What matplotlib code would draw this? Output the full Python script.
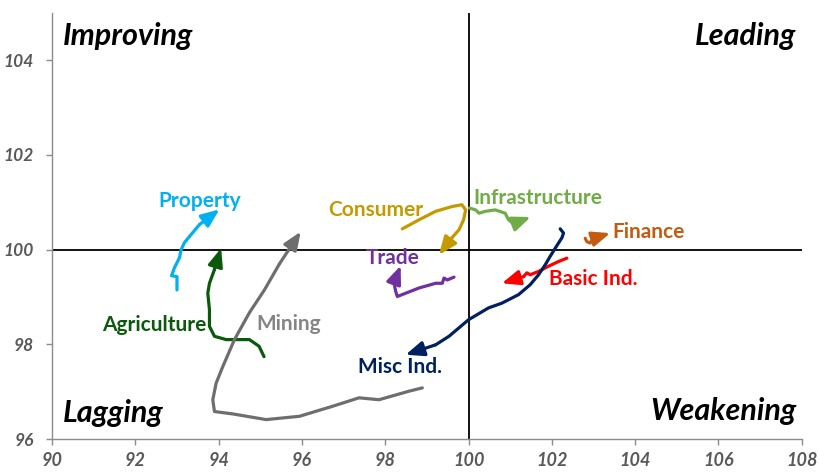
import matplotlib
matplotlib.use("Agg")
import matplotlib.pyplot as plt

plt.rcParams['font.family'] = ['Lato', 'DejaVu Sans']

# ---- data (RS-Ratio on x, RS-Momentum on y), tail order oldest -> newest ----
property_x = [93.00, 93.00, 92.87, 92.94, 93.06, 93.10, 93.18, 93.34, 93.54, 94.02]
property_y = [99.15, 99.43, 99.45, 99.62, 99.83, 100.00, 100.15, 100.32, 100.53, 100.85]

agri_x = [95.09, 94.97, 94.74, 94.18, 93.90, 93.78, 93.78, 93.74, 93.78, 93.90, 94.06]
agri_y = [97.74, 97.96, 98.10, 98.10, 98.17, 98.38, 98.73, 99.08, 99.29, 99.58, 100.03]

mining_x = [98.89, 98.57, 97.85, 97.37, 96.73, 95.94, 95.14, 94.34, 93.90, 93.86,
            93.94, 94.10, 94.38, 94.74, 95.10, 95.46, 95.97]
mining_y = [97.08, 97.01, 96.83, 96.87, 96.69, 96.48, 96.41, 96.53, 96.58, 96.83,
            97.18, 97.53, 98.10, 98.67, 99.15, 99.70, 100.38]

consumer_x = [98.41, 98.81, 99.21, 99.60, 99.84, 99.93, 99.88, 99.77, 99.60, 99.29]
consumer_y = [100.44, 100.63, 100.81, 100.91, 100.95, 100.84, 100.63, 100.42, 100.25, 99.89]

infra_x = [100.02, 100.17, 100.25, 100.40, 100.64, 100.88, 100.96, 101.08, 101.49]
infra_y = [100.88, 100.84, 100.77, 100.81, 100.84, 100.77, 100.63, 100.55, 100.69]

finance_x = [102.80, 102.84, 102.92, 102.98, 103.40]
finance_y = [100.24, 100.17, 100.14, 100.23, 100.35]

basic_x = [102.36, 102.16, 101.92, 101.68, 101.48, 101.40, 101.32, 100.80]
basic_y = [99.82, 99.75, 99.65, 99.54, 99.47, 99.51, 99.43, 99.29]

misc_x = [102.20, 102.28, 102.24, 102.08, 101.96, 101.84, 101.68, 101.48, 101.20,
          100.80, 100.48, 100.00, 99.53, 99.21, 98.49]
misc_y = [100.44, 100.35, 100.25, 100.03, 99.86, 99.68, 99.47, 99.26, 99.05,
          98.87, 98.77, 98.52, 98.17, 97.99, 97.78]

trade_x = [99.65, 99.49, 99.41, 99.37, 99.21, 98.81, 98.49, 98.29, 98.25, 98.21, 98.37]
trade_y = [99.42, 99.36, 99.40, 99.29, 99.29, 99.19, 99.08, 99.01, 99.12, 99.30, 99.66]

series_names = ['Property', 'Agriculture', 'Mining', 'Consumer', 'Infrastructure',
                'Finance', 'Basic Ind.', 'Misc Ind.', 'Trade']
label_pos = [(93.55, 101.03), (92.45, 98.41), (95.69, 98.43), (97.77, 100.84),
             (101.67, 101.10), (104.32, 100.38), (103.0, 99.38), (98.35, 97.53),
             (98.18, 99.83)]

x_ticks = [90, 92, 94, 96, 98, 100, 102, 104, 106, 108]
y_ticks = [96, 98, 100, 102, 104]

# ---- styling ----
series = [
    (property_x, property_y, '#00B0F0', '#00B0F0'),
    (agri_x, agri_y, '#0B5A0B', '#0B5A0B'),
    (mining_x, mining_y, '#6E6E6E', '#858585'),
    (consumer_x, consumer_y, '#C49A00', '#C49A00'),
    (infra_x, infra_y, '#70AD47', '#70AD47'),
    (finance_x, finance_y, '#C55A11', '#C55A11'),
    (basic_x, basic_y, '#FF0000', '#FF0000'),
    (misc_x, misc_y, '#002060', '#002060'),
    (trade_x, trade_y, '#7030A0', '#7030A0'),
]

fig = plt.figure(figsize=(8.19, 4.72), dpi=100)
ax = fig.add_axes([0.0635, 0.0699, 0.9155, 0.9026])
ax.set_xlim(90, 108)
ax.set_ylim(96, 105)

ax.axhline(100, color='black', lw=1.3, zorder=1)
ax.axvline(100, color='black', lw=1.3, zorder=1)

for (xs, ys, c, lc), name, (lx, ly) in zip(series, series_names, label_pos):
    ax.plot(xs[:-1], ys[:-1], color=c, lw=2.3, solid_capstyle='round',
            solid_joinstyle='round', zorder=3)
    ax.annotate('', xy=(xs[-1], ys[-1]), xytext=(xs[-2], ys[-2]),
                arrowprops=dict(arrowstyle='-|>,head_length=0.68,head_width=0.28',
                                color=c, lw=2.3, shrinkA=0, shrinkB=0,
                                mutation_scale=16), zorder=3)
    ax.text(lx, ly, name, color=lc, fontsize=15, fontweight='bold',
            ha='center', va='center', zorder=4)

qkw = dict(fontsize=22, fontweight='bold', fontstyle='italic', color='black',
           transform=ax.transAxes, va='center')
ax.text(0.0147, 0.946, 'Improving', ha='left', **qkw)
ax.text(0.993, 0.946, 'Leading', ha='right', **qkw)
ax.text(0.0147, 0.061, 'Lagging', ha='left', **qkw)
ax.text(0.993, 0.066, 'Weakening', ha='right', **qkw)

for s in ['top', 'right']:
    ax.spines[s].set_visible(False)
for s in ['left', 'bottom']:
    ax.spines[s].set_color('#8C8C8C')
    ax.spines[s].set_linewidth(1.0)

ax.set_xticks(x_ticks)
ax.set_yticks(y_ticks)
ax.set_xticklabels([str(t) for t in x_ticks])
ax.set_yticklabels([str(t) for t in y_ticks])
ax.tick_params(axis='both', direction='out', length=4, color='#8C8C8C', width=1.0)
ax.tick_params(axis='x', labelsize=13, pad=5)
ax.tick_params(axis='y', labelsize=12.5, pad=9)
for lab in ax.get_xticklabels() + ax.get_yticklabels():
    lab.set_fontweight('bold')
    lab.set_fontstyle('italic')
    lab.set_color('#595959')

fig.savefig('out.png', dpi=100)
